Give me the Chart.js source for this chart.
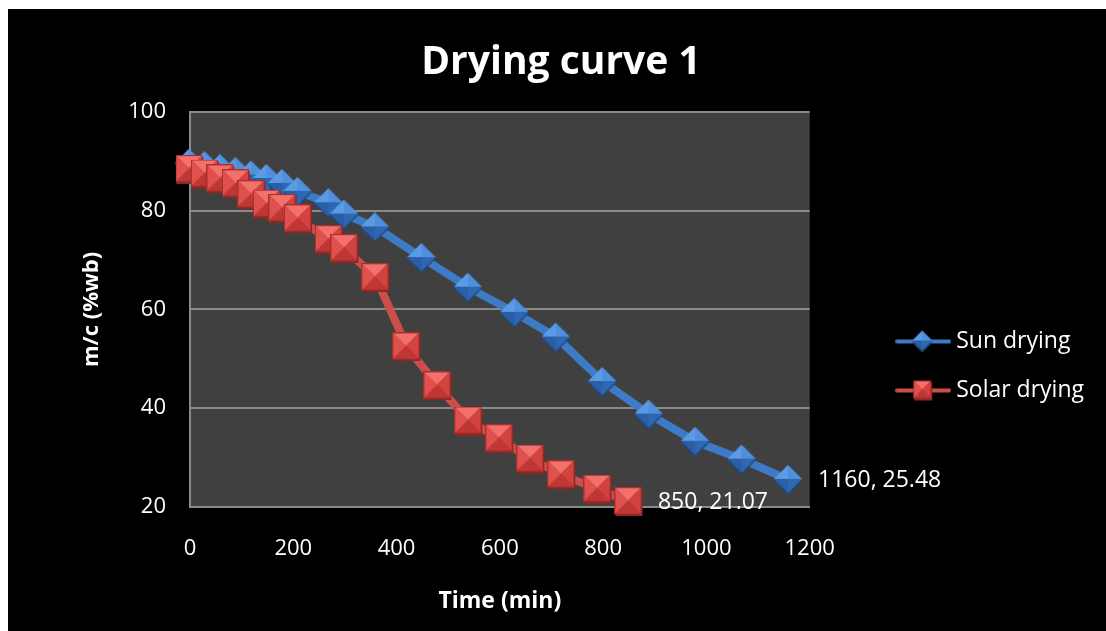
<!DOCTYPE html>
<html>
<head>
<meta charset="utf-8">
<title>Drying curve 1</title>
<script src="https://cdn.jsdelivr.net/npm/chart.js@4.4.1/dist/chart.umd.min.js"></script>
<style>
  html, body { margin: 0; padding: 0; background: #fff; }
  .frame { position: absolute; left: 8px; top: 9px; width: 1098px; height: 622px; background: #000; }
</style>
</head>
<body>
<div class="frame"><canvas id="chart" width="1098" height="622"></canvas></div>
<script>
// values (time in min, moisture content in %wb)
const sunTime = [0, 30, 60, 90, 120, 150, 180, 210, 270, 300, 360, 450, 540, 630, 710, 800, 890, 980, 1070, 1160];
const sunMc = [89.5, 89.0, 88.4, 87.8, 87.1, 86.4, 85.4, 83.8, 81.5, 79.2, 76.6, 70.4, 64.4, 59.3, 54.3, 45.3, 38.7, 33.2, 29.6, 25.48];
const solarTime = [0, 30, 60, 90, 120, 150, 180, 210, 270, 300, 360, 420, 480, 540, 600, 660, 720, 790, 850];
const solarMc = [88.3, 87.4, 86.4, 85.4, 83.2, 81.3, 80.4, 78.3, 74.1, 72.3, 66.4, 52.4, 44.5, 37.4, 33.8, 29.7, 26.5, 23.6, 21.07];
const seriesNames = ['Sun drying', 'Solar drying'];
const xRange = [0, 1200, 200];
const yRange = [20, 100, 20];

const FONT = "'Open Sans', sans-serif";
const GRID = '#8a8a8a';
const BLUE_LINE = '#3e7bc6';
const RED_LINE = '#cc4e4b';

function toPoints(xs, ys) {
  return xs.map((x, i) => ({ x: x, y: ys[i] }));
}

// little bevelled markers, like the office 3d ones
function facets(ctx, pts, c, colors) {
  for (let i = 0; i < 4; i++) {
    const a = pts[i], b = pts[(i + 1) % 4];
    ctx.beginPath();
    ctx.moveTo(a[0], a[1]);
    ctx.lineTo(b[0], b[1]);
    ctx.lineTo(c[0], c[1]);
    ctx.closePath();
    ctx.fillStyle = colors[i];
    ctx.fill();
  }
}

function makeSquare(size) {
  const cv = document.createElement('canvas');
  cv.width = size + 2; cv.height = size + 2;
  const ctx = cv.getContext('2d');
  ctx.fillStyle = '#8e2624';
  ctx.fillRect(1, 2, size, size);
  const s = size - 0.5;
  const pts = [[0.5, 0.5], [s, 0.5], [s, s], [0.5, s]];
  facets(ctx, pts, [size / 2, size / 2], ['#f4706c', '#d2423f', '#bf3734', '#e0514e']);
  ctx.strokeStyle = '#a8302d';
  ctx.lineWidth = 1;
  ctx.strokeRect(0.5, 0.5, size - 1, size - 1);
  return cv;
}

function makeDiamond(size) {
  const cv = document.createElement('canvas');
  cv.width = size + 2; cv.height = size + 2;
  const ctx = cv.getContext('2d');
  const h = size / 2;
  ctx.fillStyle = '#1d4a85';
  ctx.beginPath();
  ctx.moveTo(h, 2); ctx.lineTo(size, h + 2); ctx.lineTo(h, size + 2); ctx.lineTo(0, h + 2);
  ctx.closePath(); ctx.fill();
  const pts = [[h, 0], [size, h], [h, size], [0, h]];
  facets(ctx, pts, [h, h], ['#4f8fdc', '#2f68b2', '#2a5fa6', '#5b9ae4']);
  return cv;
}

function makeLegendIcon(color, marker) {
  const cv = document.createElement('canvas');
  cv.width = 56; cv.height = 26;
  const ctx = cv.getContext('2d');
  ctx.strokeStyle = color;
  ctx.lineWidth = 4;
  ctx.lineCap = 'round';
  ctx.beginPath();
  ctx.moveTo(2, 13); ctx.lineTo(54, 13);
  ctx.stroke();
  ctx.drawImage(marker, 28 - marker.width / 2, 13 - marker.height / 2);
  return cv;
}

const sunMarker = makeDiamond(28);
const solarMarker = makeSquare(27);
const legendIcons = [makeLegendIcon(BLUE_LINE, makeDiamond(20)), makeLegendIcon(RED_LINE, makeSquare(18))];

const plotBackground = {
  id: 'plotBackground',
  beforeDraw(chart) {
    const a = chart.chartArea;
    const ctx = chart.ctx;
    ctx.save();
    ctx.fillStyle = '#404040';
    ctx.fillRect(a.left, a.top, a.right - a.left, a.bottom - a.top);
    ctx.restore();
  }
};

// "x, y" label next to the last point of each series
const lastPointLabels = {
  id: 'lastPointLabels',
  afterDatasetsDraw(chart) {
    const ctx = chart.ctx;
    ctx.save();
    ctx.font = '23px ' + FONT;
    ctx.fillStyle = '#fff';
    ctx.textBaseline = 'middle';
    chart.data.datasets.forEach((ds, i) => {
      const meta = chart.getDatasetMeta(i);
      const last = ds.data.length - 1;
      const el = meta.data[last];
      const v = ds.data[last];
      ctx.fillText(v.x + ', ' + v.y.toFixed(2), el.x + 29, el.y + 1);
    });
    ctx.restore();
  }
};

const legendLabels = Chart.defaults.plugins.legend.labels.generateLabels;

new Chart(document.getElementById('chart'), {
  type: 'line',
  data: {
    datasets: [{
      label: seriesNames[0],
      data: toPoints(sunTime, sunMc),
      borderColor: BLUE_LINE,
      backgroundColor: BLUE_LINE,
      borderWidth: 8,
      pointStyle: sunMarker,
      pointRadius: 12,
      tension: 0,
      clip: false,
      order: 1
    }, {
      label: seriesNames[1],
      data: toPoints(solarTime, solarMc),
      borderColor: RED_LINE,
      backgroundColor: RED_LINE,
      borderWidth: 8,
      pointStyle: solarMarker,
      pointRadius: 12,
      tension: 0,
      clip: false,
      order: 0
    }]
  },
  options: {
    responsive: false,
    devicePixelRatio: 1,
    animation: false,
    layout: { padding: { left: 20, right: 12, top: 0, bottom: 0 } },
    scales: {
      x: {
        type: 'linear',
        min: xRange[0],
        max: xRange[1],
        ticks: {
          stepSize: xRange[2], color: '#fff', font: { family: FONT, size: 22 }, padding: 29,
          callback: v => String(v)
        },
        grid: { color: 'rgba(0,0,0,0)', drawTicks: false },
        border: { color: GRID, width: 2 },
        title: {
          display: true, text: 'Time (min)', color: '#fff',
          font: { family: FONT, size: 23, weight: 'bold' },
          padding: { top: 0, bottom: 16 }
        },
        afterFit(scale) { scale.height = 124; }
      },
      y: {
        min: yRange[0],
        max: yRange[1],
        ticks: { stepSize: yRange[2], color: '#fff', font: { family: FONT, size: 22 }, padding: 24 },
        grid: { color: GRID, lineWidth: 2, drawTicks: false },
        border: { color: GRID, width: 2 },
        title: {
          display: true, text: 'm/c (%wb)', color: '#fff',
          font: { family: FONT, size: 22, weight: 'bold' },
          padding: { top: 51, bottom: 0 }
        },
        afterFit(scale) { scale.width = 162; }
      },
      gap: {
        type: 'linear',
        position: 'right',
        display: true,
        grid: { display: false, drawTicks: false },
        ticks: { display: false },
        border: { display: false },
        afterFit(scale) { scale.width = 66; }
      }
    },
    plugins: {
      title: {
        display: true,
        text: 'Drying curve 1',
        color: '#fff',
        font: { family: FONT, size: 39, weight: 'bold' },
        padding: { top: 30, bottom: 26 }
      },
      legend: {
        position: 'right',
        maxWidth: 400,
        title: { display: true, text: ' ', font: { size: 10 }, padding: 40 },
        labels: {
          usePointStyle: true,
          pointStyleWidth: 43,
          padding: 26,
          color: '#fff',
          font: { family: FONT, size: 23 },
          sort: (a, b) => a.datasetIndex - b.datasetIndex,
          generateLabels(chart) {
            return legendLabels(chart).map(item => {
              item.pointStyle = legendIcons[item.datasetIndex];
              return item;
            });
          }
        }
      },
      tooltip: { enabled: false }
    }
  },
  plugins: [plotBackground, lastPointLabels]
});
</script>
</body>
</html>
